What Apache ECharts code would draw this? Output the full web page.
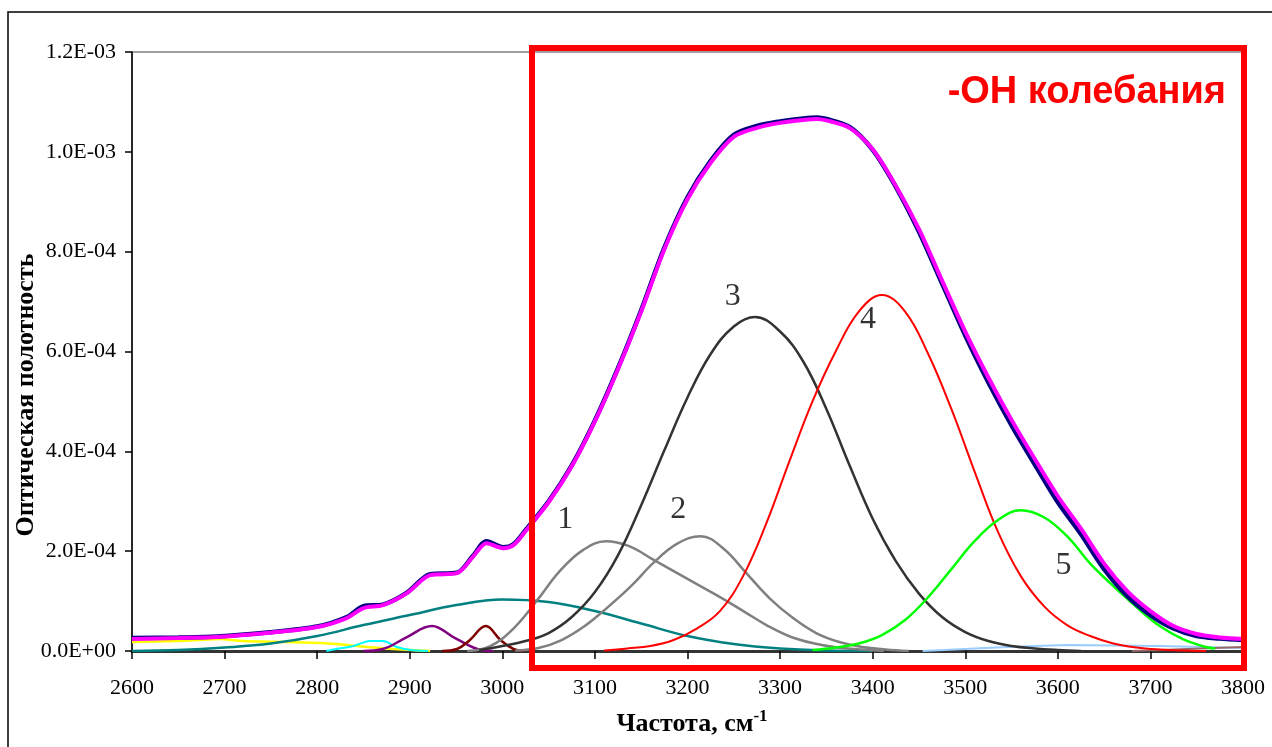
<!DOCTYPE html>
<html>
<head>
<meta charset="utf-8">
<script src="https://cdn.jsdelivr.net/npm/echarts@6/dist/echarts.min.js"></script>
<style>
html,body{margin:0;padding:0;background:#fff;}
#chart{width:1272px;height:747px;}
</style>
</head>
<body>
<div id="chart"></div>
<script>
// Values in units of 1E-4 (optical density); x in cm^-1
var UNIT = 1e-4;
var xTicks = [2600, 2700, 2800, 2900, 3000, 3100, 3200, 3300, 3400, 3500, 3600, 3700, 3800];
var yTicks = [0, 2, 4, 6, 8, 10, 12];

var expX = [2600, 2650, 2692, 2746, 2800, 2832, 2850, 2871, 2897, 2922, 2951, 2968, 2983, 3001, 3012,
            3025, 3050, 3075, 3100, 3125, 3150, 3175, 3200, 3225, 3250, 3275, 3300, 3325, 3340, 3350, 3375, 3400,
            3425, 3450, 3475, 3500, 3525, 3550, 3575, 3600, 3625, 3650, 3675, 3700, 3725, 3750, 3775, 3800];
var expY = [0.26, 0.27, 0.29, 0.37, 0.49, 0.68, 0.9, 0.93, 1.17, 1.54, 1.57, 1.9, 2.2, 2.08, 2.14,
            2.42, 3.0, 3.72, 4.62, 5.67, 6.83, 8.08, 9.09, 9.82, 10.34, 10.52, 10.61, 10.67, 10.69, 10.66, 10.5, 10.04,
            9.3, 8.4, 7.36, 6.32, 5.38, 4.52, 3.74, 2.98, 2.34, 1.64, 1.1, 0.72, 0.45, 0.3, 0.25, 0.22];

var fitX = [2600, 2650, 2692, 2746, 2800, 2832, 2850, 2871, 2897, 2922, 2951, 2968, 2983, 3001, 3012,
            3025, 3050, 3075, 3100, 3125, 3150, 3175, 3200, 3225, 3250, 3275, 3300, 3325, 3340, 3350, 3375, 3400,
            3425, 3450, 3475, 3500, 3525, 3550, 3575, 3600, 3625, 3650, 3675, 3700, 3725, 3750, 3775, 3800];
var fitY = [0.24, 0.26, 0.28, 0.36, 0.48, 0.66, 0.86, 0.92, 1.16, 1.52, 1.56, 1.88, 2.16, 2.06, 2.12,
            2.4, 2.98, 3.7, 4.6, 5.65, 6.8, 8.05, 9.05, 9.78, 10.3, 10.48, 10.58, 10.64, 10.66, 10.63, 10.48, 10.05,
            9.32, 8.45, 7.42, 6.4, 5.48, 4.63, 3.85, 3.1, 2.45, 1.75, 1.2, 0.8, 0.5, 0.34, 0.27, 0.24];

var tealX = [2600, 2650, 2700, 2750, 2800, 2850, 2900, 2950, 3000, 3050, 3100, 3150, 3200, 3250, 3300, 3350, 3400];
var tealY = [0, 0.02, 0.07, 0.15, 0.3, 0.52, 0.72, 0.92, 1.03, 0.98, 0.8, 0.55, 0.3, 0.14, 0.05, 0.01, 0];

var yellowX = [2600, 2650, 2695, 2720, 2768, 2803, 2821, 2854, 2882, 2922];
var yellowY = [0.18, 0.2, 0.24, 0.2, 0.18, 0.16, 0.14, 0.08, 0.04, 0];

var cyanX = [2810, 2821, 2839, 2857, 2871, 2886, 2901, 2920];
var cyanY = [0, 0.04, 0.1, 0.2, 0.2, 0.08, 0.02, 0];

var purpleX = [2850, 2871, 2897, 2924, 2947, 2973, 2990];
var purpleY = [0, 0.04, 0.28, 0.5, 0.28, 0.04, 0];

var maroonX = [2935, 2951, 2965, 2982, 2998, 3012, 3025];
var maroonY = [0, 0.04, 0.22, 0.5, 0.22, 0.04, 0];

var band1X = [2962, 2987, 3012, 3037, 3062, 3087, 3112, 3137, 3162, 3187, 3212, 3237, 3262, 3287, 3312, 3337, 3362, 3387, 3412];
var band1Y = [0, 0.1, 0.45, 1.0, 1.6, 2.02, 2.2, 2.1, 1.84, 1.58, 1.32, 1.06, 0.78, 0.5, 0.28, 0.15, 0.07, 0.03, 0];

var band2X = [3014, 3039, 3064, 3089, 3114, 3139, 3164, 3189, 3214, 3239, 3264, 3289, 3314, 3339, 3364, 3389, 3414, 3439];
var band2Y = [0.01, 0.06, 0.22, 0.5, 0.88, 1.3, 1.78, 2.15, 2.3, 2.05, 1.55, 1.05, 0.66, 0.36, 0.18, 0.08, 0.03, 0];

var band3X = [2975, 3000, 3025, 3050, 3075, 3100, 3125, 3150, 3175, 3200, 3225, 3250, 3273, 3300, 3325, 3350, 3375, 3400, 3425, 3450, 3475, 3500, 3525, 3550, 3575, 3600, 3625];
var band3Y = [0.02, 0.1, 0.2, 0.36, 0.68, 1.18, 1.92, 2.92, 4.02, 5.08, 5.95, 6.5, 6.69, 6.4, 5.8, 4.85, 3.72, 2.65, 1.8, 1.15, 0.68, 0.38, 0.2, 0.1, 0.05, 0.02, 0];

var band4X = [3110, 3135, 3160, 3185, 3210, 3235, 3260, 3285, 3310, 3335, 3360, 3385, 3410, 3435, 3460, 3485, 3510, 3535, 3560, 3585, 3610, 3635, 3660, 3685, 3710, 3735, 3760];
var band4Y = [0.01, 0.05, 0.1, 0.22, 0.45, 0.8, 1.5, 2.55, 3.8, 5.0, 6.0, 6.8, 7.13, 6.8, 5.95, 4.85, 3.6, 2.4, 1.5, 0.9, 0.52, 0.3, 0.15, 0.07, 0.03, 0.01, 0];

var band5X = [3335, 3360, 3385, 3410, 3435, 3460, 3485, 3510, 3535, 3560, 3585, 3610, 3635, 3660, 3685, 3710, 3735, 3760, 3770];
var band5Y = [0.02, 0.07, 0.15, 0.32, 0.62, 1.08, 1.64, 2.2, 2.62, 2.82, 2.68, 2.3, 1.75, 1.3, 0.88, 0.5, 0.24, 0.08, 0.05];

var lightBlueX = [3454, 3521, 3612, 3711, 3800];
var lightBlueY = [0, 0.06, 0.12, 0.1, 0.06];

var brownX = [3680, 3740, 3800];
var brownY = [0, 0.04, 0.08];

var bandLabels = ['1', '2', '3', '4', '5'];
var bandLabelX = [3068, 3190, 3249, 3395, 3606];
var bandLabelY = [2.63, 2.83, 7.09, 6.63, 1.72];

var titleText = '-OH колебания';
var yTitle = 'Оптическая полотность';

function pairs(xs, ys) {
  return xs.map(function (x, i) { return [x, ys[i] * UNIT]; });
}
function line(name, xs, ys, color, width, smooth) {
  return {
    name: name, type: 'line', data: pairs(xs, ys), showSymbol: false, symbol: 'none',
    smooth: smooth === undefined ? 0.4 : smooth,
    lineStyle: { color: color, width: width }, silent: true, z: 3
  };
}
function sci(v) {
  var s = v.toExponential(1).toUpperCase();
  var m = s.split('E');
  var e = parseInt(m[1], 10);
  var es = (e < 0 ? '-' : '+') + (Math.abs(e) < 10 ? '0' : '') + Math.abs(e);
  return m[0] + 'E' + es;
}

var chart = echarts.init(document.getElementById('chart'), null, { renderer: 'canvas' });
var serif = '"Liberation Serif", "Times New Roman", serif';

var series = [
  line('yellow', yellowX, yellowY, '#FFFF00', 2.5, 0.2),
  line('cyan', cyanX, cyanY, '#00FFFF', 2, 0.3),
  line('teal', tealX, tealY, '#008080', 2.5),
  line('purple', purpleX, purpleY, '#800080', 2.5),
  line('maroon', maroonX, maroonY, '#800000', 2.5),
  line('lightblue', lightBlueX, lightBlueY, '#99CCFF', 2, 0.2),
  line('brown', brownX, brownY, '#996666', 2, 0.2),
  line('1', band1X, band1Y, '#808080', 2.5),
  line('2', band2X, band2Y, '#808080', 2.5),
  line('3', band3X, band3Y, '#333333', 2.5),
  line('4', band4X, band4Y, '#FF0000', 2),
  line('5', band5X, band5Y, '#00FF00', 2.5),
  line('exp', expX, expY, '#000080', 4.5, 0.3),
  line('fit', fitX, fitY, '#FF00FF', 4, 0.3),
  {
    name: 'labels', type: 'scatter', symbolSize: 0, silent: true, z: 5,
    data: bandLabels.map(function (t, i) { return { value: [bandLabelX[i], bandLabelY[i] * UNIT], name: t }; }),
    label: { show: true, position: 'inside', formatter: '{b}', color: '#000', fontFamily: serif, fontSize: 32 }
  }
];

chart.setOption({
  animation: false,
  backgroundColor: '#fff',
  grid: { left: 132, right: 29, top: 52, bottom: 96, show: true, borderColor: '#808080', borderWidth: 1.5, backgroundColor: 'transparent' },
  xAxis: {
    type: 'value', min: xTicks[0], max: xTicks[xTicks.length - 1], interval: 100,
    axisLine: { show: true, onZero: false, lineStyle: { color: '#333', width: 3 } },
    axisTick: { show: true, inside: false, length: 8, lineStyle: { color: '#000', width: 1.5 } },
    axisLabel: { color: '#000', fontFamily: serif, fontSize: 22, margin: 26, formatter: function (v) { return String(v); } },
    splitLine: { show: false }
  },
  yAxis: {
    type: 'value', min: 0, max: yTicks[yTicks.length - 1] * UNIT, interval: 2 * UNIT,
    axisLine: { show: true, lineStyle: { color: '#000', width: 1.5 } },
    axisTick: { show: true, inside: false, length: 7, lineStyle: { color: '#000', width: 1.5 } },
    axisLabel: { color: '#000', fontFamily: serif, fontSize: 22, margin: 16, formatter: function (v) { return sci(v); } },
    splitLine: { show: false }
  },
  series: series,
  graphic: [
    { type: 'rect', shape: { x: 8, y: 12, width: 1300, height: 800 }, style: { fill: null, stroke: '#000', lineWidth: 1.5 }, silent: true, z: 0 },
    { type: 'rect', shape: { x: 532, y: 48, width: 712, height: 620 }, style: { fill: null, stroke: '#FF0000', lineWidth: 6 }, silent: true, z: 10 },
    { type: 'text', x: 1226, y: 93, style: { text: titleText, fill: '#FF0000', font: 'bold 38px "Liberation Sans", Arial, sans-serif', textAlign: 'right', textVerticalAlign: 'middle' }, z: 11 },
    { type: 'text', x: 26, y: 395, rotation: Math.PI / 2, style: { text: yTitle, fill: '#000', font: 'bold 26px "Liberation Serif", "Times New Roman", serif', textAlign: 'center', textVerticalAlign: 'middle' }, z: 11 },
    { type: 'text', x: 692, y: 724, style: {
        text: '{a|Частота, см}{b|-1}',
        textAlign: 'center', textVerticalAlign: 'middle',
        rich: {
          a: { fontFamily: serif, fontWeight: 'bold', fontSize: 26, fill: '#000', color: '#000' },
          b: { fontFamily: serif, fontWeight: 'bold', fontSize: 17, fill: '#000', color: '#000', verticalAlign: 'top', padding: [0, 0, 14, 0] }
        }
      }, z: 11 }
  ]
});
</script>
</body>
</html>
